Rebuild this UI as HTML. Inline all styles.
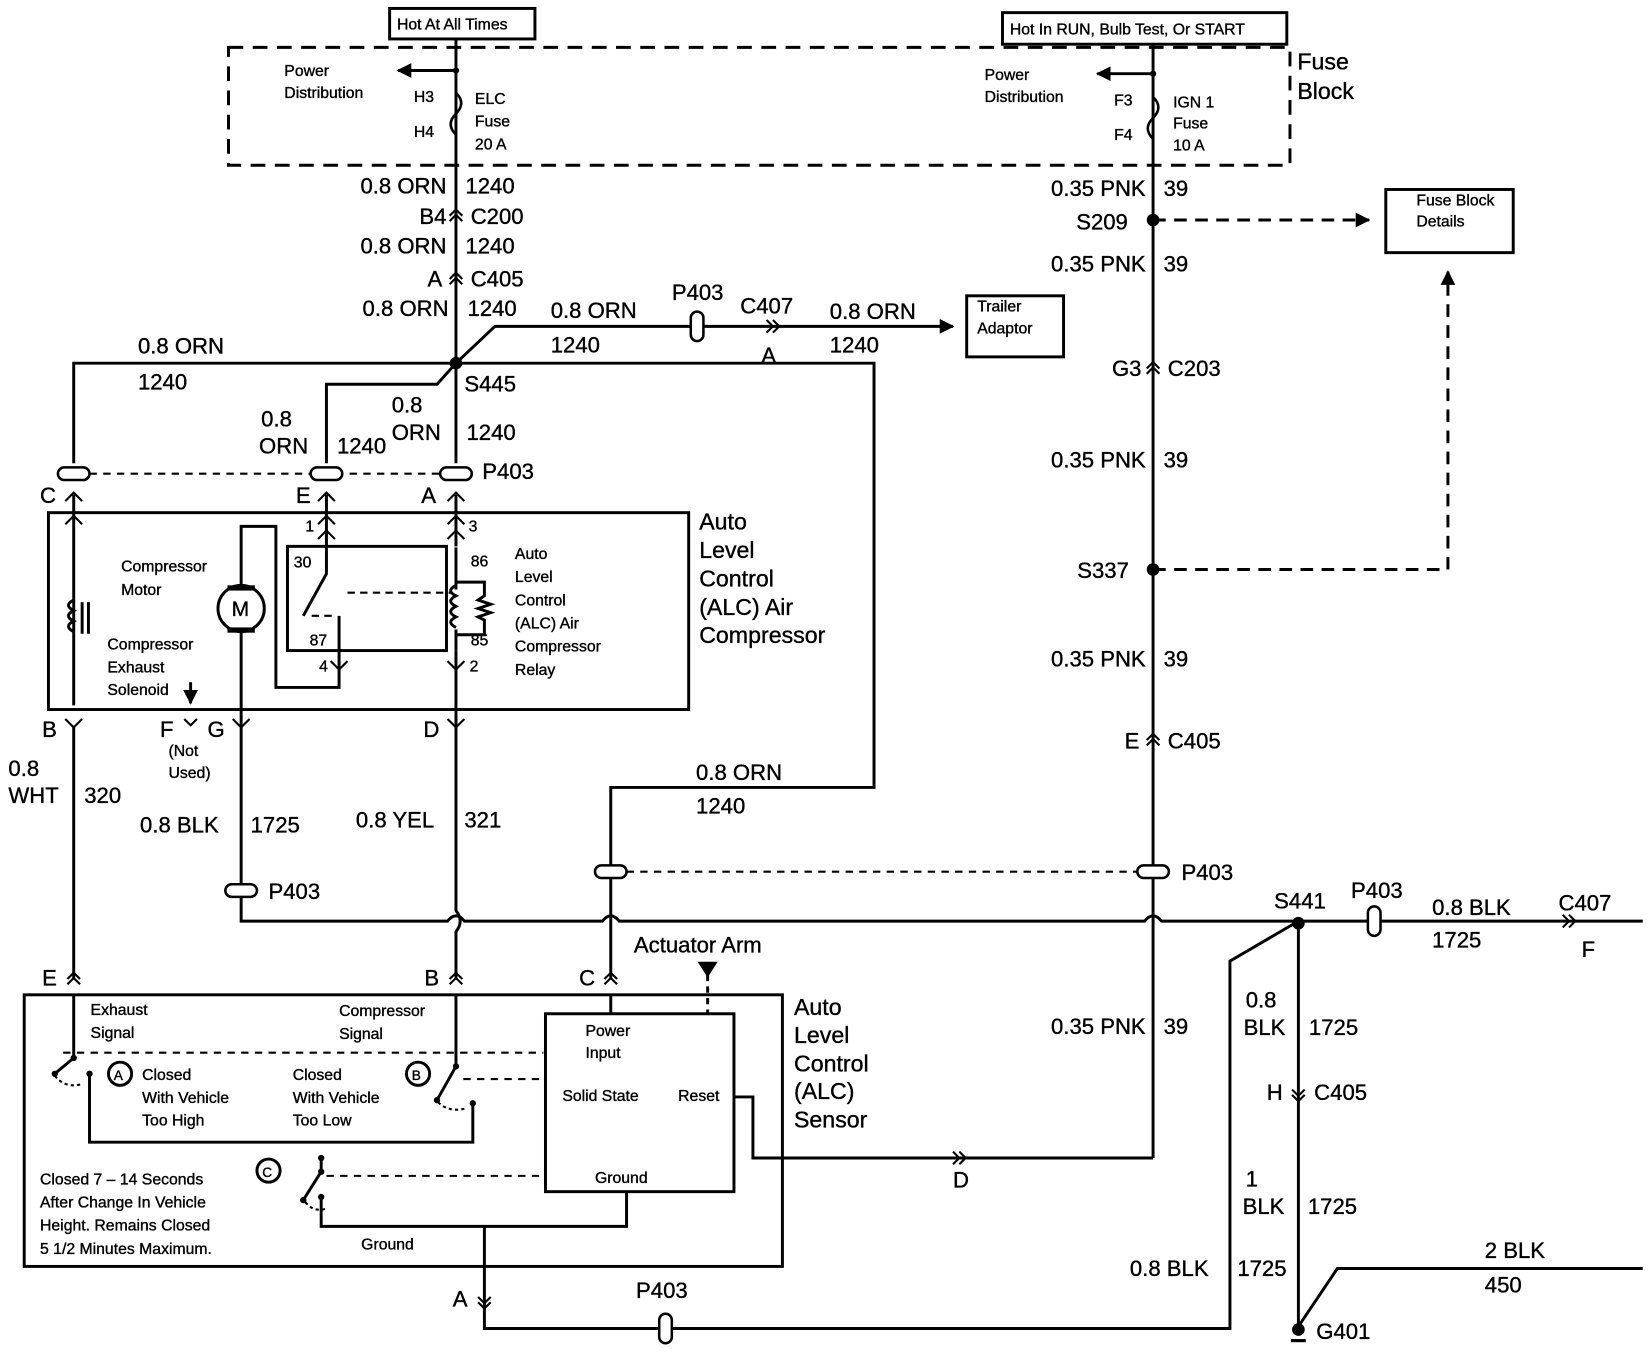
<!DOCTYPE html>
<html><head><meta charset="utf-8"><style>
html,body{margin:0;padding:0;background:#fff;}
svg{display:block;}
text{font-family:"Liberation Sans",Arial,sans-serif;fill:#000;stroke:#000;stroke-width:0.35;}
.l{font-size:21px;}
.s{font-size:15px;}
.m{font-size:22px;}
</style></head><body>
<svg width="1648" height="1358" viewBox="0 0 1565 1290" preserveAspectRatio="none" xmlns="http://www.w3.org/2000/svg">
<defs>
<marker id="ar" viewBox="0 0 10 10" refX="9" refY="5" markerWidth="5" markerHeight="5" orient="auto"><path d="M0,0L10,5L0,10z" fill="#000"/></marker>
</defs>
<g fill="none" stroke="#000" stroke-width="2.8">
<rect x="370" y="8" width="138" height="29"/>
<rect x="952" y="12" width="270" height="30"/>
<rect x="217" y="45" width="1008" height="112" stroke-dasharray="14,9"/>
<rect x="918" y="281" width="92" height="58"/>
<rect x="1316" y="180" width="121" height="60"/>
<path d="M433,37V345"/>
<path d="M433,67H378" marker-end="url(#ar)"/>
<path d="M1095,42V1100"/>
<path d="M1095,70H1042" marker-end="url(#ar)"/>
<path d="M70,440V345H830V748H580V930"/>
<path d="M433,345L470,310H905" marker-end="url(#ar)"/>
<path d="M433,345L415,365H310V440"/>
<path d="M433,345V440"/>
<path d="M85,450H420" stroke-dasharray="7,6" stroke-width="2"/>
<rect x="46" y="487" width="608" height="187"/>
<rect x="273" y="519" width="151" height="99"/>
<path d="M70,470V670M310,470V519M433,470V519M433,618V690M229,598V690M229,555V500H262V653H322V632"/>
<path d="M433,520V560M433,598V618M310,520V545L288,585M322,632V585"/>
<path d="M296,585H318M330,563H428" stroke-dasharray="7,5" stroke-width="2"/>
<path d="M433,556q-10,5 0,10q-10,5 0,10q-10,5 0,10q-10,5 0,10M433,553H460V566l-6,4 12,4-12,4 12,4-12,4 6,3V603H433"/>
<path d="M70,570q-10,5 0,10q-10,5 0,10q-10,5 0,10M78,572V602M84,572V602"/>
<path d="M181,648V668" marker-end="url(#ar)"/>
<circle cx="229" cy="578" r="22"/>
<path d="M70,690V930M229,690V845M433,690V865q8,10 0,20V930"/>
<path d="M229,845V875H425q8,-10 16,0H572q8,-10 16,0H1087q8,-10 16,0H1560"/>
<path d="M595,828H1080" stroke-dasharray="7,6" stroke-width="2"/>
<path d="M1233,875L1168,913V1262H460V1165"/>
<path d="M1233,875V1265"/>
<path d="M1233,1260L1270,1205H1560"/>
<path d="M1095,209H1300" stroke-dasharray="12,8" marker-end="url(#ar)"/>
<path d="M1095,541H1375V258" stroke-dasharray="12,8" marker-end="url(#ar)"/>
<rect x="23" y="945" width="720" height="258"/>
<rect x="518" y="963" width="179" height="169"/>
<path d="M672,915V962" stroke-dasharray="6,5"/>
<path d="M665,915H679L672,926z" fill="#000"/>
<path d="M697,1042H715V1100H1095"/>
<path d="M595,1132V1165H305V1137"/>
<path d="M70,945V1005L52,1020M433,945V1013L415,1045M580,945V963"/>
<path d="M85,1020V1085H449V1048M305,1100V1113L288,1140"/>
<path d="M60,1000H516M440,1025H516M310,1117H516" stroke-dasharray="7,6" stroke-width="2"/>
<path d="M52,1022q10,12 25,8M416,1047q10,10 26,6M290,1142q8,10 20,6" stroke-dasharray="3,3" stroke-width="2"/>
<circle cx="114" cy="1020" r="11"/><circle cx="397" cy="1020" r="11"/><circle cx="255" cy="1112" r="11"/>
</g>
<g fill="#000">
<circle cx="433" cy="345" r="6"/><circle cx="1095" cy="209" r="6"/><circle cx="1095" cy="541" r="6"/><circle cx="1233" cy="877" r="6"/><circle cx="1233" cy="1263" r="6"/>
<rect x="1226" y="1272" width="14" height="3"/>
<circle cx="433" cy="67" r="3"/><circle cx="1095" cy="70" r="3"/>
<circle cx="70" cy="1005" r="3"/><circle cx="52" cy="1020" r="3"/><circle cx="85" cy="1020" r="3"/>
<circle cx="433" cy="1013" r="3"/><circle cx="415" cy="1045" r="3"/><circle cx="449" cy="1048" r="3"/>
<circle cx="305" cy="1113" r="3"/><circle cx="288" cy="1140" r="3"/><circle cx="305" cy="1137" r="3"/><circle cx="305" cy="1100" r="3"/>
<rect x="216" y="556" width="26" height="5"/><rect x="216" y="596" width="26" height="5"/>
</g>
<g fill="none" stroke="#000" stroke-width="2.4">
<path d="M433,88q10,10 0,20q-10,10 0,20"/>
<path d="M1095,92q10,10 0,20q-10,10 0,20"/>
</g>
<g fill="#fff" stroke="#000" stroke-width="2.4">
<rect x="55" y="444" width="30" height="12" rx="6"/>
<rect x="295" y="444" width="30" height="12" rx="6"/>
<rect x="418" y="444" width="30" height="12" rx="6"/>
<rect x="214" y="840" width="30" height="12" rx="6"/>
<rect x="565" y="822" width="30" height="12" rx="6"/>
<rect x="1080" y="822" width="30" height="12" rx="6"/>
<rect x="656" y="296" width="12" height="28" rx="6"/>
<rect x="1299" y="861" width="12" height="28" rx="6"/>
<rect x="626" y="1248" width="12" height="28" rx="6"/>
</g>
<g fill="none" stroke="#000" stroke-width="2">
<path d="M427,210l6,-6 6,6M427,205l6,-6 6,6"/>
<path d="M427,270l6,-6 6,6M427,265l6,-6 6,6"/>
<path d="M1089,355l6,-6 6,6M1089,350l6,-6 6,6"/>
<path d="M1089,708l6,-6 6,6M1089,703l6,-6 6,6"/>
<path d="M1227,1035l6,6 6,-6M1227,1040l6,6 6,-6"/>
<path d="M454,1232l6,6 6,-6M454,1237l6,6 6,-6"/>
<path d="M64,935l6,-6 6,6M64,930l6,-6 6,6M427,935l6,-6 6,6M427,930l6,-6 6,6M574,935l6,-6 6,6M574,930l6,-6 6,6"/>
<path d="M728,304l6,6 -6,6M734,304l6,6 -6,6"/>
<path d="M1484,869l6,6 -6,6M1490,869l6,6 -6,6"/>
<path d="M905,1094l6,6 -6,6M911,1094l6,6 -6,6"/>
<path d="M62,476l8,-8 8,8M302,476l8,-8 8,8M425,476l8,-8 8,8"/>
<path d="M62,498l8,-8 8,8M302,498l8,-8 8,8M425,498l8,-8 8,8M302,512l8,-8 8,8M425,512l8,-8 8,8"/>
<path d="M62,683l8,8 8,-8M221,683l8,8 8,-8M425,683l8,8 8,-8M175,683l6,6 6,-6"/>
<path d="M314,628l8,8 8,-8M425,628l8,8 8,-8"/>
</g>
<text x="377" y="28" class="s">Hot At All Times</text>
<text x="959" y="33" class="s">Hot In RUN, Bulb Test, Or START</text>
<text x="1232" y="66" class="m">Fuse</text><text x="1232" y="94" class="m">Block</text>
<text x="270" y="72" class="s">Power</text><text x="270" y="93" class="s">Distribution</text>
<text x="393" y="97" class="s">H3</text><text x="393" y="130" class="s">H4</text>
<text x="451" y="99" class="s">ELC</text><text x="451" y="120" class="s">Fuse</text><text x="451" y="142" class="s">20 A</text>
<text x="935" y="76" class="s">Power</text><text x="935" y="97" class="s">Distribution</text>
<text x="1058" y="100" class="s">F3</text><text x="1058" y="133" class="s">F4</text>
<text x="1114" y="102" class="s">IGN 1</text><text x="1114" y="122" class="s">Fuse</text><text x="1114" y="143" class="s">10 A</text>
<g class="l">
<text x="424" y="184" text-anchor="end">0.8 ORN</text><text x="442" y="184">1240</text>
<text x="424" y="213" text-anchor="end">B4</text><text x="447" y="213">C200</text>
<text x="424" y="241" text-anchor="end">0.8 ORN</text><text x="442" y="241">1240</text>
<text x="420" y="272" text-anchor="end">A</text><text x="447" y="272">C405</text>
<text x="426" y="300" text-anchor="end">0.8 ORN</text><text x="444" y="300">1240</text>
<text x="131" y="336">0.8 ORN</text><text x="131" y="370">1240</text>
<text x="523" y="302">0.8 ORN</text><text x="523" y="335">1240</text>
<text x="638" y="285">P403</text><text x="703" y="298">C407</text><text x="723" y="345">A</text>
<text x="788" y="303">0.8 ORN</text><text x="788" y="335">1240</text>
<text x="441" y="372">S445</text>
<text x="248" y="405">0.8</text><text x="246" y="431">ORN</text><text x="320" y="431">1240</text>
<text x="372" y="392">0.8</text><text x="372" y="418">ORN</text><text x="443" y="418">1240</text>
<text x="458" y="455">P403</text>
<text x="38" y="478">C</text><text x="281" y="478">E</text><text x="400" y="478">A</text>
<text x="40" y="700">B</text><text x="152" y="700">F</text><text x="197" y="700">G</text><text x="402" y="700">D</text>
<text x="8" y="737">0.8</text><text x="8" y="763">WHT</text><text x="80" y="763">320</text>
<text x="133" y="791">0.8 BLK</text><text x="238" y="791">1725</text>
<text x="338" y="786">0.8 YEL</text><text x="441" y="786">321</text>
<text x="255" y="854">P403</text>
<text x="661" y="741">0.8 ORN</text><text x="661" y="773">1240</text>
<text x="40" y="936">E</text><text x="403" y="936">B</text><text x="550" y="936">C</text>
<text x="602" y="905">Actuator Arm</text>
<text x="1088" y="186" text-anchor="end">0.35 PNK</text><text x="1105" y="186">39</text>
<text x="1022" y="218">S209</text>
<text x="1088" y="258" text-anchor="end">0.35 PNK</text><text x="1105" y="258">39</text>
<text x="1084" y="357" text-anchor="end">G3</text><text x="1109" y="357">C203</text>
<text x="1088" y="444" text-anchor="end">0.35 PNK</text><text x="1105" y="444">39</text>
<text x="1023" y="549">S337</text>
<text x="1088" y="633" text-anchor="end">0.35 PNK</text><text x="1105" y="633">39</text>
<text x="1082" y="711" text-anchor="end">E</text><text x="1109" y="711">C405</text>
<text x="1122" y="836">P403</text>
<text x="1088" y="982" text-anchor="end">0.35 PNK</text><text x="1105" y="982">39</text>
<text x="1210" y="863">S441</text><text x="1283" y="853">P403</text>
<text x="1360" y="869">0.8 BLK</text><text x="1360" y="900">1725</text>
<text x="1480" y="865">C407</text><text x="1502" y="909">F</text>
<text x="1183" y="957">0.8</text><text x="1181" y="983">BLK</text><text x="1243" y="983">1725</text>
<text x="1203" y="1045">H</text><text x="1248" y="1045">C405</text>
<text x="1183" y="1127">1</text><text x="1180" y="1153">BLK</text><text x="1242" y="1153">1725</text>
<text x="1073" y="1212">0.8 BLK</text><text x="1175" y="1212">1725</text>
<text x="1410" y="1195">2 BLK</text><text x="1410" y="1228">450</text>
<text x="1250" y="1272">G401</text>
<text x="905" y="1128">D</text>
<text x="430" y="1241">A</text><text x="604" y="1233">P403</text>
</g>
<g class="m">
<text x="664" y="503">Auto</text><text x="664" y="530">Level</text><text x="664" y="557">Control</text><text x="664" y="584">(ALC) Air</text><text x="664" y="611">Compressor</text>
<text x="754" y="964">Auto</text><text x="754" y="991">Level</text><text x="754" y="1018">Control</text><text x="754" y="1044">(ALC)</text><text x="754" y="1071">Sensor</text>
</g>
<g class="s">
<text x="928" y="296">Trailer</text><text x="928" y="317">Adaptor</text>
<text x="1345" y="195">Fuse Block</text><text x="1345" y="215">Details</text>
<text x="115" y="543">Compressor</text><text x="115" y="565">Motor</text>
<text x="102" y="617">Compressor</text><text x="102" y="639">Exhaust</text><text x="102" y="660">Solenoid</text>
<text x="220" y="585" font-size="20">M</text>
<text x="290" y="505">1</text><text x="445" y="505">3</text>
<text x="279" y="539">30</text><text x="447" y="538">86</text><text x="294" y="613">87</text><text x="447" y="613">85</text>
<text x="303" y="638">4</text><text x="446" y="638">2</text>
<text x="489" y="531">Auto</text><text x="489" y="553">Level</text><text x="489" y="575">Control</text><text x="489" y="597">(ALC) Air</text><text x="489" y="619">Compressor</text><text x="489" y="641">Relay</text>
<text x="160" y="718">(Not</text><text x="160" y="739">Used)</text>
<text x="86" y="964">Exhaust</text><text x="86" y="986">Signal</text>
<text x="322" y="965">Compressor</text><text x="322" y="987">Signal</text>
<text x="108" y="1026" font-size="13">A</text><text x="391" y="1026" font-size="13">B</text><text x="249" y="1118" font-size="13">C</text>
<text x="135" y="1026">Closed</text><text x="135" y="1048">With Vehicle</text><text x="135" y="1069">Too High</text>
<text x="278" y="1026">Closed</text><text x="278" y="1048">With Vehicle</text><text x="278" y="1069">Too Low</text>
<text x="556" y="984">Power</text><text x="556" y="1005">Input</text>
<text x="534" y="1046">Solid State</text><text x="644" y="1046">Reset</text><text x="565" y="1124">Ground</text>
<text x="38" y="1125">Closed 7 – 14 Seconds</text><text x="38" y="1147">After Change In Vehicle</text><text x="38" y="1169">Height. Remains Closed</text><text x="38" y="1191">5 1/2 Minutes Maximum.</text>
<text x="343" y="1187">Ground</text>
</g>
</svg>
</body></html>
